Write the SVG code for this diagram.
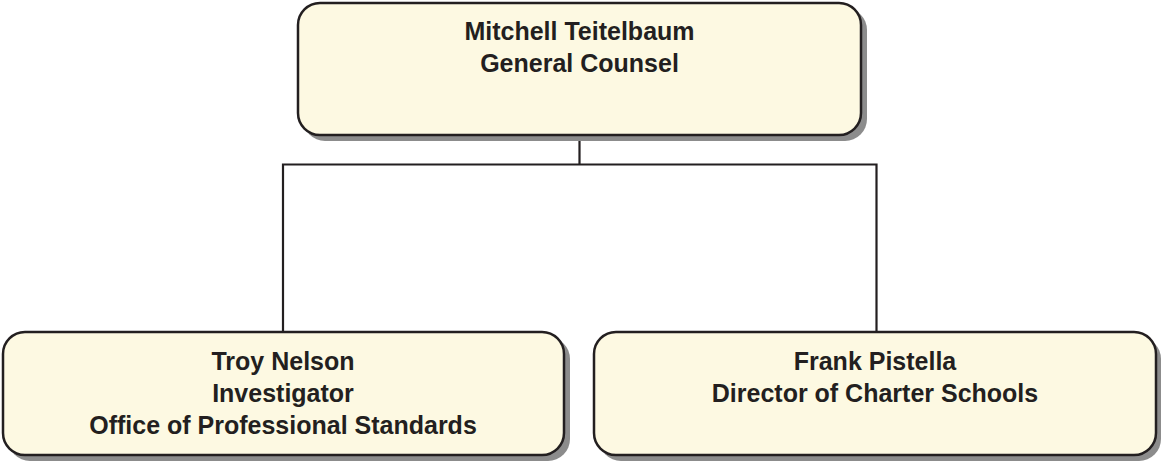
<svg xmlns="http://www.w3.org/2000/svg" width="1163" height="462" viewBox="0 0 1163 462">
<style>
.shadow{fill:#8c8c8c;stroke:none}
.box{fill:#fdf9e2;stroke:#231f20;stroke-width:2.5}
.conn{fill:none;stroke:#231f20;stroke-width:2.2}
text{font-family:"Liberation Sans",Arial,sans-serif;font-weight:bold;font-size:25px;fill:#231f20;text-anchor:middle}
</style>
<rect width="1163" height="462" fill="#ffffff"/>
<g id="connectors">
<path class="conn" d="M579.5 136 V164.5 M283 164.5 H876.5 M283 163.5 V332 M876.5 163.5 V332"/>
</g>
<g id="node-teitelbaum">
<rect class="shadow" x="303" y="8" width="564" height="133" rx="22"/>
<rect class="box" x="298" y="3" width="563" height="132" rx="22"/>
<text x="579.5" y="39.5">Mitchell Teitelbaum</text>
<text x="579.5" y="71.5">General Counsel</text>
</g>
<g id="node-nelson">
<rect class="shadow" x="8" y="337" width="562" height="124" rx="22"/>
<rect class="box" x="3" y="332" width="561" height="123" rx="22"/>
<text x="283" y="369.5">Troy Nelson</text>
<text x="283" y="401.5">Investigator</text>
<text x="283" y="433.5">Office of Professional Standards</text>
</g>
<g id="node-pistella">
<rect class="shadow" x="599" y="337" width="562" height="124" rx="22"/>
<rect class="box" x="594" y="332" width="562" height="123" rx="22"/>
<text x="875" y="369.5">Frank Pistella</text>
<text x="875" y="401.5">Director of Charter Schools</text>
</g>
</svg>
